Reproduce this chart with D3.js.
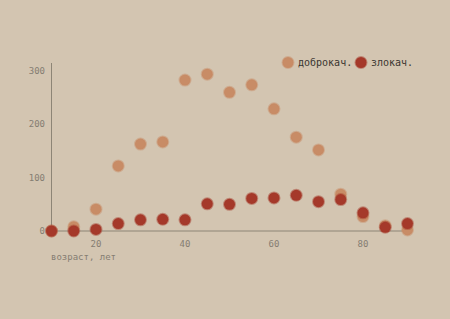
<!DOCTYPE html>
<html>
<head>
<meta charset="utf-8">
<script src="https://cdn.jsdelivr.net/npm/d3@7"></script>
<style>
  html, body { margin: 0; padding: 0; background: #d3c5b1; }
  svg { display: block; }
</style>
</head>
<body>
<div id="chart"></div>
<script>
//Datos
const ages = [10, 15, 20, 25, 30, 35, 40, 45, 50, 55, 60, 65, 70, 75, 80, 85, 90];
const benign = [0, 8, 41, 122, 163, 167, 283, 294, 260, 274, 229, 176, 152, 69, 27, 10, 2];
const malignant = [0, 0, 3, 14, 21, 22, 21, 51, 50, 61, 62, 67, 55, 59, 34, 7, 14];
const xTicks = [20, 40, 60, 80];
const yTicks = [0, 100, 200, 300];
const seriesNames = ['доброкач.', 'злокач.'];

//Colores
const COLOR_BENIGN = '#c88c66',
COLOR_MALIGNANT = '#a5392a',
COLOR_AXIS = '#8d8576',
COLOR_TEXT = '#857d72';

let width = 450, height = 319;

let svg = d3.select('#chart').append('svg')
    .attr('width', width)
    .attr('height', height)
    .style('font-family', "'DejaVu Sans Mono', monospace");

let x = d3.scaleLinear().domain([10, 90]).range([51.5, 407.5]);
let y = d3.scaleLinear().domain([0, 300]).range([231, 71]);

//Ejes
svg.append('line')
    .attr('x1', x(10)).attr('x2', x(90))
    .attr('y1', y(0)).attr('y2', y(0))
    .attr('stroke', COLOR_AXIS).attr('stroke-width', 1);
svg.append('line')
    .attr('x1', x(10)).attr('x2', x(10))
    .attr('y1', y(0)).attr('y2', 63)
    .attr('stroke', COLOR_AXIS).attr('stroke-width', 1);

svg.selectAll('.xtick')
    .data(xTicks)
    .enter()
    .append('text')
    .attr('x', d => x(d))
    .attr('y', y(0) + 16)
    .attr('text-anchor', 'middle')
    .attr('font-size', 9)
    .attr('fill', COLOR_TEXT)
    .text(d => d);

svg.selectAll('.ytick')
    .data(yTicks)
    .enter()
    .append('text')
    .attr('x', 45)
    .attr('y', d => y(d) + 3)
    .attr('text-anchor', 'end')
    .attr('font-size', 9)
    .attr('fill', COLOR_TEXT)
    .text(d => d);

svg.append('text')
    .attr('x', 51)
    .attr('y', 260)
    .attr('font-size', 9)
    .attr('fill', COLOR_TEXT)
    .text('возраст, лет');

//Puntos
function drawSeries(values, color) {
    svg.append('g').selectAll('circle')
        .data(values)
        .enter()
        .append('circle')
        .attr('cx', (d, i) => x(ages[i]))
        .attr('cy', d => y(d))
        .attr('r', 5.5)
        .attr('fill', color)
        .attr('stroke', color)
        .attr('stroke-opacity', 0.45)
        .attr('stroke-width', 2);
}
drawSeries(benign, COLOR_BENIGN);
drawSeries(malignant, COLOR_MALIGNANT);

//Leyenda
let legend = [
    { name: seriesNames[0], color: COLOR_BENIGN, cx: 288, tx: 298 },
    { name: seriesNames[1], color: COLOR_MALIGNANT, cx: 361, tx: 371 }
];
let lg = svg.append('g').selectAll('g').data(legend).enter().append('g');
lg.append('circle')
    .attr('cx', d => d.cx).attr('cy', 62.5).attr('r', 5.5)
    .attr('fill', d => d.color)
    .attr('stroke', d => d.color).attr('stroke-opacity', 0.45).attr('stroke-width', 2);
lg.append('text')
    .attr('x', d => d.tx).attr('y', 66)
    .attr('font-size', 10)
    .attr('fill', '#3a3530')
    .text(d => d.name);
</script>
</body>
</html>
